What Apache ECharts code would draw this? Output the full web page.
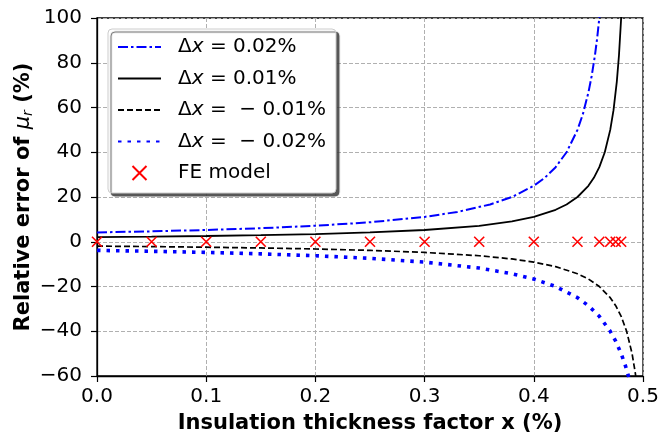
<!DOCTYPE html>
<html><head><meta charset="utf-8">
<script src="https://cdn.jsdelivr.net/npm/echarts@6/dist/echarts.min.js"></script>
<style>html,body{margin:0;padding:0;background:#fff}#c{width:662px;height:435px}</style>
</head><body><div id="c"></div><script>
// x positions (%) and relative error (%)
const x02 = [0,0.05,0.1,0.15,0.2,0.25,0.3,0.33,0.36,0.38,0.4,0.41,0.42,0.43,0.44,0.445,0.45,0.453,0.456,0.458,0.46,0.462,0.464];
const y02 = [4.17,4.65,5.26,6.06,7.14,8.70,11.11,13.33,16.67,20.0,25.0,28.57,33.33,40.0,50.0,57.14,66.67,74.07,83.33,90.91,100,111.1,125];
const x01 = [0,0.05,0.1,0.15,0.2,0.25,0.3,0.35,0.38,0.4,0.42,0.43,0.44,0.45,0.455,0.46,0.465,0.47,0.473,0.476,0.478,0.48,0.482,0.484];
const y01 = [2.04,2.27,2.56,2.94,3.45,4.17,5.26,7.14,9.09,11.11,14.29,16.67,20.0,25.0,28.57,33.33,40.0,50.0,58.82,71.43,83.33,100,125,166.7];
const xm01 = [0,0.05,0.1,0.15,0.2,0.25,0.3,0.35,0.38,0.4,0.42,0.44,0.45,0.46,0.47,0.475,0.48,0.485,0.49,0.493,0.496,0.499,0.5];
const ym01 = [-1.96,-2.17,-2.44,-2.78,-3.23,-3.85,-4.76,-6.25,-7.69,-9.09,-11.11,-14.29,-16.67,-20.0,-25.0,-28.57,-33.33,-40.0,-50.0,-58.82,-71.43,-90.91,-100];
const xm02 = [0,0.05,0.1,0.15,0.2,0.25,0.3,0.35,0.38,0.4,0.42,0.44,0.45,0.46,0.47,0.475,0.48,0.484,0.487,0.49,0.495];
const ym02 = [-3.85,-4.26,-4.76,-5.41,-6.25,-7.41,-9.09,-11.76,-14.29,-16.67,-20.0,-25.0,-28.57,-33.33,-40.0,-44.44,-50.0,-55.56,-60.61,-66.67,-80.0];
const xFE = [0,0.05,0.1,0.15,0.2,0.25,0.3,0.35,0.4,0.44,0.46,0.47,0.475,0.48];
const yFE = [0,0,0,0,0,0,0,0,0,0,0,0,0,0];

const names = ['Δx = 0.02%','Δx = 0.01%','Δx = −0.01%','Δx = −0.02%','FE model'];
const legendRich = {
  'Δx = 0.02%': '{n|Δ}{i|x}{n| = 0.02%}',
  'Δx = 0.01%': '{n|Δ}{i|x}{n| = 0.01%}',
  'Δx = −0.01%': '{n|Δ}{i|x}{n| =  − 0.01%}',
  'Δx = −0.02%': '{n|Δ}{i|x}{n| =  − 0.02%}',
  'FE model': '{n|FE model}'
};
const zip = (a,b) => a.map((v,i)=>[v,b[i]]);
const F = 'DejaVu Sans';
const hidden = {color:'rgba(0,0,0,0)', borderWidth:0, opacity:0};

const chart = echarts.init(document.getElementById('c'), null, {renderer:'canvas'});
chart.setOption({
  animation:false,
  backgroundColor:'#fff',
  grid:{left:97, top:18, width:546, height:358, containLabel:false, outerBoundsMode:'none',
    show:true, borderColor:'#000', borderWidth:1.3, backgroundColor:'transparent'},
  xAxis:{type:'value', min:0, max:0.5, interval:0.1,
    name:'Insulation thickness factor x (%)', nameLocation:'middle', nameGap:37, nameMoveOverlap:false,
    nameTextStyle:{fontFamily:F, fontWeight:'bold', fontSize:21, color:'#000'},
    axisLine:{show:true, onZero:false, lineStyle:{color:'#000', width:1.3}},
    axisTick:{show:true, inside:false, length:6, lineStyle:{color:'#000', width:1.2}},
    axisLabel:{margin:11, fontFamily:F, fontSize:20, color:'#000', formatter:v=>v.toFixed(1)},
    splitLine:{show:true, lineStyle:{color:'#b0b0b0', width:1, type:[4,2]}}
  },
  yAxis:{type:'value', min:-60, max:100, interval:20,
    name:'{b|Relative error of }{m|μ}{s|r}{b| (%)}', nameLocation:'middle', nameGap:62, nameRotate:90, nameMoveOverlap:false,
    nameTextStyle:{fontFamily:F, fontSize:21, color:'#000', rich:{
      b:{fontFamily:F, fontWeight:'bold', fontSize:21, color:'#000'},
      m:{fontFamily:F, fontStyle:'italic', fontSize:21, color:'#000'},
      s:{fontFamily:F, fontStyle:'italic', fontSize:14, color:'#000', verticalAlign:'bottom', padding:[8,0,0,0]}
    }},
    axisLine:{show:true, onZero:false, lineStyle:{color:'#000', width:1.3}},
    axisTick:{show:true, inside:false, length:6, lineStyle:{color:'#000', width:1.2}},
    axisLabel:{margin:15, fontFamily:F, fontSize:20, color:'#000', formatter:v=> v<0 ? '\u2212'+Math.abs(v) : String(v)},
    splitLine:{show:true, lineStyle:{color:'#b0b0b0', width:1, type:[4,2]}}
  },
  legend:{orient:'vertical', left:108, top:29,
    data:names.map((n,i)=> i<4 ? {name:n, itemStyle:hidden} : {name:n}),
    itemWidth:43, itemHeight:14, itemGap:11.5,
    padding:[8,10,10,9],
    backgroundColor:'#fff', borderColor:'#cccccc', borderWidth:1, borderRadius:4,
    shadowColor:'rgba(60,60,60,0.85)', shadowOffsetX:3, shadowOffsetY:3, shadowBlur:1,
    formatter:n=>legendRich[n],
    textStyle:{fontFamily:F, fontSize:20, color:'#000', padding:[0,0,0,12], rich:{
      n:{fontFamily:F, fontSize:20, color:'#000'},
      i:{fontFamily:F, fontStyle:'italic', fontSize:20, color:'#000'}
    }}
  },
  series:[
    {name:names[0], type:'line', data:zip(x02,y02), symbol:'none', clip:true,
      lineStyle:{color:'#0000ff', width:2, type:[10,3,2.5,3], cap:'butt'}, itemStyle:hidden},
    {name:names[1], type:'line', data:zip(x01,y01), symbol:'none', clip:true,
      lineStyle:{color:'#000', width:1.8}, itemStyle:hidden},
    {name:names[2], type:'line', data:zip(xm01,ym01), symbol:'none', clip:true,
      lineStyle:{color:'#000', width:1.7, type:[6,3], cap:'butt'}, itemStyle:hidden},
    {name:names[3], type:'line', data:zip(xm02,ym02), symbol:'none', clip:true,
      lineStyle:{color:'#0000ff', width:3.6, type:[3.5,6], cap:'butt'}, itemStyle:hidden},
    {name:names[4], type:'scatter', data:zip(xFE,yFE), symbol:'path://M0,0L10,10M0,10L10,0', symbolSize:10, z:5,
      itemStyle:{color:'rgba(0,0,0,0)', borderColor:'#ff0000', borderWidth:1.6, opacity:1}}
  ]
});
</script></body></html>
